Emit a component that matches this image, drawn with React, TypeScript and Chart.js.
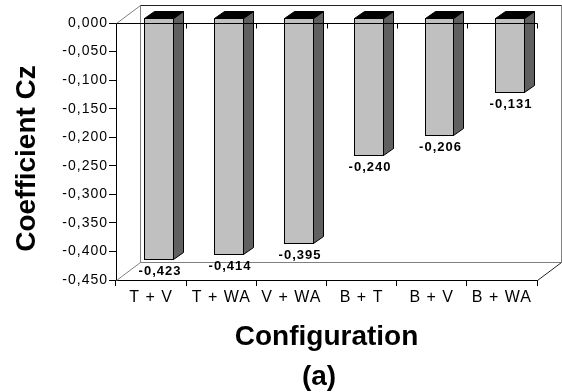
import React, { useEffect, useRef } from "react";
import { Chart, registerables } from "chart.js";

Chart.register(...registerables);

// ---- data ----
const categories = ["T + V", "T + WA", "V + WA", "B + T", "B + V", "B + WA"];
const values = [-0.423, -0.414, -0.395, -0.24, -0.206, -0.131];
const yMin = -0.45;
const yMax = 0;
const yStep = 0.05;
const yTitle = "Coefficient Cz";
const xTitle = "Configuration";
const caption = "(a)";

const FONT = "'Liberation Sans', Arial, sans-serif";
const fmt = (v: number, d: number) => {
  const s = (Math.abs(v) < 1e-9 ? 0 : v).toFixed(d);
  return s.replace(".", ",");
};

// 3D look
const DEPTH_X = 24;
const DEPTH_Y = -18;
const BAR_FRONT = 0.3;
const BAR_DEPTH = 0.4;

const px = (v: number) => Math.round(v) + 0.5;

function seg(ctx: CanvasRenderingContext2D, x0: number, y0: number, x1: number, y1: number) {
  ctx.beginPath();
  ctx.moveTo(px(x0), px(y0));
  ctx.lineTo(px(x1), px(y1));
  ctx.stroke();
}

const threeD = {
  id: "threeD",
  beforeLayout(chart: any) {
    chart.ctx.letterSpacing = "1px";
  },
  beforeDraw(chart: any) {
    chart.ctx.letterSpacing = "1px";
  },
  beforeDatasetsDraw(chart: any) {
    const { ctx, chartArea } = chart;
    const { left, right, top, bottom } = chartArea;
    ctx.save();
    ctx.lineWidth = 1;
    // back wall and floor outline
    ctx.strokeStyle = "#808080";
    seg(ctx, left, top, left + DEPTH_X, top + DEPTH_Y);
    seg(ctx, left + DEPTH_X, top + DEPTH_Y, left + DEPTH_X, bottom + DEPTH_Y);
    seg(ctx, right + DEPTH_X, top + DEPTH_Y, right + DEPTH_X, bottom + DEPTH_Y);
    seg(ctx, left + DEPTH_X, bottom + DEPTH_Y, right + DEPTH_X, bottom + DEPTH_Y);
    seg(ctx, left, bottom, left + DEPTH_X, bottom + DEPTH_Y);
    ctx.strokeStyle = "#222";
    seg(ctx, left + DEPTH_X, top + DEPTH_Y, right + DEPTH_X, top + DEPTH_Y);
    seg(ctx, right, bottom, right + DEPTH_X, bottom + DEPTH_Y);
    ctx.restore();
  },
  afterDatasetsDraw(chart: any) {
    const { ctx, chartArea } = chart;
    const { left, right } = chartArea;
    const meta = chart.getDatasetMeta(0);
    const ox = DEPTH_X * BAR_FRONT;
    const oy = DEPTH_Y * BAR_FRONT;
    const dx = DEPTH_X * BAR_DEPTH;
    const dy = DEPTH_Y * BAR_DEPTH;
    ctx.save();
    ctx.lineWidth = 1;
    ctx.strokeStyle = "#000";
    meta.data.forEach((el: any, i: number) => {
      const { x, y, base, width } = el.getProps(["x", "y", "base", "width"], true);
      const x0 = Math.round(x - width / 2 + ox) + 0.5;
      const x1 = Math.round(x + width / 2 + ox) + 0.5;
      const y0 = Math.round(Math.min(base, y) + oy) + 0.5;
      const y1 = Math.round(Math.max(base, y) + oy) + 0.5;
      const ddx = Math.round(dx);
      const ddy = Math.round(dy);
      // side face
      ctx.beginPath();
      ctx.moveTo(x1, y0);
      ctx.lineTo(x1 + ddx, y0 + ddy);
      ctx.lineTo(x1 + ddx, y1 + ddy);
      ctx.lineTo(x1, y1);
      ctx.closePath();
      ctx.fillStyle = "#606060";
      ctx.fill();
      ctx.stroke();
      // top face
      ctx.beginPath();
      ctx.moveTo(x0, y0);
      ctx.lineTo(x0 + ddx, y0 + ddy);
      ctx.lineTo(x1 + ddx, y0 + ddy);
      ctx.lineTo(x1, y0);
      ctx.closePath();
      ctx.fillStyle = "#000";
      ctx.fill();
      ctx.stroke();
      // front face
      ctx.fillStyle = "#c0c0c0";
      ctx.fillRect(x0, y0, x1 - x0, y1 - y0);
      ctx.strokeRect(x0, y0, x1 - x0, y1 - y0);
      // value label
      ctx.fillStyle = "#000";
      ctx.font = `bold 13px ${FONT}`;
      (ctx as any).letterSpacing = "1px";
      ctx.textAlign = "center";
      ctx.textBaseline = "alphabetic";
      ctx.fillText(fmt(values[i], 3), (x0 + x1) / 2 + 1, y1 + 15);
    });
    // front zero line with category ticks
    const yScale = chart.scales.y;
    const xScale = chart.scales.x;
    const y0 = yScale.getPixelForValue(0);
    ctx.strokeStyle = "#000";
    seg(ctx, left, y0, right, y0);
    const n = categories.length;
    for (let i = 1; i <= n; i++) {
      const bx = xScale.getPixelForValue(i - 0.5);
      seg(ctx, bx, y0, bx, y0 + 5);
    }
    ctx.restore();
  },
  afterDraw(chart: any) {
    const { ctx, chartArea } = chart;
    const { left, right, top, bottom } = chartArea;
    ctx.save();
    (ctx as any).letterSpacing = "0px";
    ctx.fillStyle = "#000";
    ctx.font = `bold 28px ${FONT}`;
    ctx.textAlign = "center";
    ctx.textBaseline = "alphabetic";
    ctx.fillText(xTitle, (left + right) / 2, 345);
    ctx.fillText(caption, 319, 385);
    ctx.translate(35, (top + bottom) / 2 + 7);
    ctx.rotate(-Math.PI / 2);
    ctx.fillText(yTitle, 0, 0);
    ctx.restore();
  },
};

export default function App() {
  const ref = useRef<HTMLCanvasElement | null>(null);
  useEffect(() => {
    if (!ref.current) return;
    Chart.defaults.font.family = FONT;
    const chart = new Chart(ref.current, {
      type: "bar",
      data: {
        labels: categories,
        datasets: [
          {
            data: values,
            backgroundColor: "rgba(0,0,0,0)",
            borderWidth: 0,
            barPercentage: 0.41,
            categoryPercentage: 1,
          },
        ],
      },
      options: {
        responsive: false,
        animation: false,
        events: [],
        layout: { padding: { top: 23, right: 25, left: 0, bottom: 0 } },
        plugins: {
          legend: { display: false },
          tooltip: { enabled: false },
          title: { display: false },
        },
        scales: {
          x: {
            type: "category",
            offset: true,
            grid: {
              offset: true,
              drawOnChartArea: false,
              tickLength: 6,
              color: "#000",
              lineWidth: 1,
            },
            border: { color: "#000", width: 1 },
            ticks: {
              color: "#000",
              font: { size: 16, family: FONT },
              padding: 2,
              maxRotation: 0,
              autoSkip: false,
            },
            afterFit: (s: any) => {
              s.height = 112;
            },
          },
          y: {
            min: yMin,
            max: yMax,
            grid: {
              drawOnChartArea: false,
              tickLength: 7,
              color: "#000",
              lineWidth: 1,
            },
            border: { color: "#000", width: 1 },
            ticks: {
              stepSize: yStep,
              color: "#000",
              font: { size: 14, family: FONT },
              padding: 1,
              callback: (v: any) => fmt(Number(v), 3),
            },
            afterFit: (s: any) => {
              s.width = 116;
            },
          },
        },
      },
      plugins: [threeD],
    });
    return () => chart.destroy();
  }, []);
  return (
    <canvas
      ref={ref}
      width={562}
      height={392}
      style={{ position: "fixed", left: 0, top: 0, width: 562, height: 392, display: "block", background: "#fff" }}
    />
  );
}
